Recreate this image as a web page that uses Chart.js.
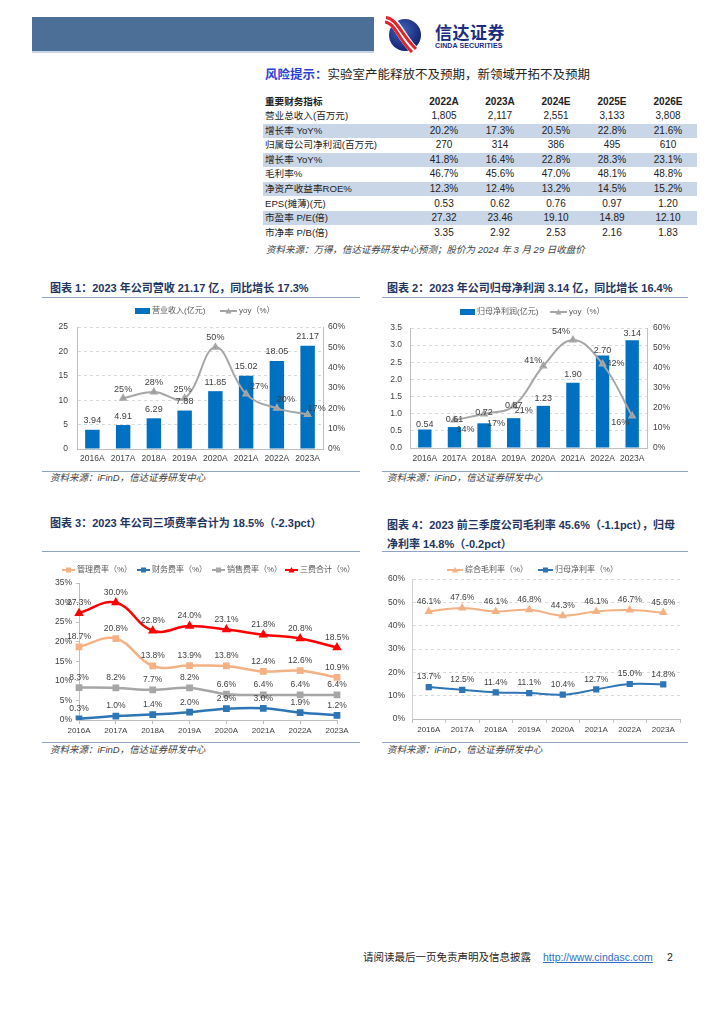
<!DOCTYPE html>
<html>
<head>
<meta charset="utf-8">
<script src="https://cdn.jsdelivr.net/npm/chart.js@4.4.1/dist/chart.umd.min.js"></script>
<style>
  body { margin: 0; background: #fff; }
  #page { position: relative; width: 724px; height: 1024px; overflow: hidden;
          font-family: "Liberation Sans", "Noto Sans CJK SC", sans-serif; color: #222; }
  .a { position: absolute; white-space: nowrap; }
  .title { font-size: 11px; font-weight: bold; color: #1f3561; line-height: 14px; }
  .rule { position: absolute; height: 0; border-top: 1.5px solid #8fa2c4; }
  .src { font-size: 9.5px; font-style: italic; color: #404040; line-height: 12px; }
  .lg { font-size: 8px; color: #595959; line-height: 10px; }
  .cell { position: absolute; width: 56px; text-align: center; font-size: 10px; line-height: 14px; }
  .box { position: absolute; }
</style>
</head>
<body>
<div id="page">
  <!-- header -->
  <div class="box" style="left:32px;top:17px;width:342px;height:34px;background:#4b6f97;"></div>
  <div class="box" style="left:32px;top:51px;width:342px;height:2px;background:#c8d5e4;"></div>
  <svg class="box" style="left:385px;top:16px" width="36" height="37" viewBox="0 0 36 37">
    <defs>
      <radialGradient id="lg1" cx="40%" cy="35%" r="70%">
        <stop offset="0" stop-color="#4262b8"/>
        <stop offset="1" stop-color="#0f1f6e"/>
      </radialGradient>
    </defs>
    <circle cx="20" cy="19" r="16" fill="url(#lg1)"/>
    <path d="M1 3 C 12 4, 16 22, 30 35" stroke="#fff" stroke-width="9" fill="none"/>
    <path d="M1 1.5 C 12 2.5, 17 20, 31 33" stroke="#e3232c" stroke-width="3" fill="none"/>
    <path d="M0 6 C 10 7, 14 24, 27 36" stroke="#e3232c" stroke-width="3" fill="none"/>
  </svg>
  <div class="a" style="left:435px;top:22px;font-size:17px;font-weight:bold;color:#1b2d80;letter-spacing:0.5px;line-height:20px;font-family:'Noto Sans CJK SC';">信达证券</div>
  <div class="a" style="left:435px;top:42px;font-size:7px;font-weight:bold;color:#1b2d80;line-height:8px;letter-spacing:0.1px;">CINDA SECURITIES</div>

  <!-- risk line -->
  <div class="a" style="left:265px;top:67px;font-size:12.5px;line-height:16px;">
    <span style="color:#2b3fd6;font-weight:bold;">风险提示&#xFF1A;</span><span>实验室产能释放不及预期&#xFF0C;新领域开拓不及预期</span>
  </div>

  <div id="table"></div>
  <div class="a src" style="left:266px;top:244px;">资料来源&#xFF1A;万得&#xFF0C;信达证券研发中心预测&#xFF1B;股价为 2024 年 3 月 29 日收盘价</div>

  <!-- chart titles and rules -->
  <div class="a title" style="left:50px;top:281px;">图表 1&#xFF1A;2023 年公司营收 21.17 亿&#xFF0C;同比增长 17.3%</div>
  <div class="rule" style="left:42px;top:297px;width:318px;"></div>
  <div class="a title" style="left:387px;top:281px;">图表 2&#xFF1A;2023 年公司归母净利润 3.14 亿&#xFF0C;同比增长 16.4%</div>
  <div class="rule" style="left:382px;top:297px;width:306px;"></div>

  <div id="w1" class="box" style="left:42px;top:300px;width:318px;height:170px;"><canvas id="c1"></canvas></div>
  <div id="w2" class="box" style="left:382px;top:300px;width:306px;height:170px;"><canvas id="c2"></canvas></div>

  <div class="rule" style="left:42px;top:471px;width:318px;"></div>
  <div class="rule" style="left:382px;top:471px;width:306px;"></div>
  <div class="a src" style="left:50px;top:472px;">资料来源&#xFF1A;iFinD&#xFF0C;信达证券研发中心</div>
  <div class="a src" style="left:387px;top:472px;">资料来源&#xFF1A;iFinD&#xFF0C;信达证券研发中心</div>

  <div class="a title" style="left:50px;top:516px;">图表 3&#xFF1A;2023 年公司三项费率合计为 18.5%&#xFF08;-2.3pct&#xFF09;</div>
  <div class="a title" style="left:387px;top:516px;line-height:19px;">图表 4&#xFF1A;2023 前三季度公司毛利率 45.6%&#xFF08;-1.1pct&#xFF09;&#xFF0C;归母<br>净利率 14.8%&#xFF08;-0.2pct&#xFF09;</div>
  <div class="rule" style="left:42px;top:551px;width:318px;"></div>
  <div class="rule" style="left:382px;top:551px;width:306px;"></div>

  <div id="w3" class="box" style="left:42px;top:565px;width:318px;height:175px;"><canvas id="c3"></canvas></div>
  <div id="w4" class="box" style="left:382px;top:565px;width:306px;height:175px;"><canvas id="c4"></canvas></div>

  <div class="rule" style="left:42px;top:742px;width:318px;"></div>
  <div class="rule" style="left:382px;top:742px;width:306px;"></div>
  <div class="a src" style="left:50px;top:744px;">资料来源&#xFF1A;iFinD&#xFF0C;信达证券研发中心</div>
  <div class="a src" style="left:387px;top:744px;">资料来源&#xFF1A;iFinD&#xFF0C;信达证券研发中心</div>

  <div id="legends"></div>

  <!-- footer -->
  <div class="a" style="left:363px;top:950px;font-size:10.5px;line-height:14px;color:#222;">请阅读最后一页免责声明及信息披露</div>
  <div class="a" style="left:543px;top:950px;font-size:10.5px;line-height:14px;color:#2e6fc0;text-decoration:underline;">http://www.cindasc.com</div>
  <div class="a" style="left:667px;top:950px;font-size:10.5px;line-height:14px;color:#222;">2</div>
</div>

<script>
// ---- data ----
var years = ['2016A', '2017A', '2018A', '2019A', '2020A', '2021A', '2022A', '2023A'];

var revenue = [3.94, 4.91, 6.29, 7.88, 11.85, 15.02, 18.05, 21.17];
var revenueYoy = [null, 25, 28, 25, 50, 27, 20, 17];

var netProfit = [0.54, 0.61, 0.72, 0.87, 1.23, 1.90, 2.70, 3.14];
var netProfitYoy = [null, 14, 17, 21, 41, 54, 42, 16];

var mgmtRate = [18.7, 20.8, 13.8, 13.9, 13.8, 12.4, 12.6, 10.9];
var finRate = [0.3, 1.0, 1.4, 2.0, 2.9, 3.0, 1.9, 1.2];
var salesRate = [8.3, 8.2, 7.7, 8.2, 6.6, 6.4, 6.4, 6.4];
var totalRate = [27.3, 30.0, 22.8, 24.0, 23.1, 21.8, 20.8, 18.5];

var grossMargin = [46.1, 47.6, 46.1, 46.8, 44.3, 46.1, 46.7, 45.6];
var netMargin = [13.7, 12.5, 11.4, 11.1, 10.4, 12.7, 15.0, 14.8];

var tableYears = ['2022A', '2023A', '2024E', '2025E', '2026E'];
var tableLabels = ['营业总收入(百万元)', '增长率 YoY%', '归属母公司净利润(百万元)', '增长率 YoY%', '毛利率%',
                   '净资产收益率ROE%', 'EPS(摊薄)(元)', '市盈率 P/E(倍)', '市净率 P/B(倍)'];
var tableRevenue = ['1,805', '2,117', '2,551', '3,133', '3,808'];
var tableRevenueYoy = ['20.2%', '17.3%', '20.5%', '22.8%', '21.6%'];
var tableProfit = ['270', '314', '386', '495', '610'];
var tableProfitYoy = ['41.8%', '16.4%', '22.8%', '28.3%', '23.1%'];
var tableGross = ['46.7%', '45.6%', '47.0%', '48.1%', '48.8%'];
var tableRoe = ['12.3%', '12.4%', '13.2%', '14.5%', '15.2%'];
var tableEps = ['0.53', '0.62', '0.76', '0.97', '1.20'];
var tablePe = ['27.32', '23.46', '19.10', '14.89', '12.10'];
var tablePb = ['3.35', '2.92', '2.53', '2.16', '1.83'];

// ---- table ----
var tableRows = [tableRevenue, tableRevenueYoy, tableProfit, tableProfitYoy, tableGross, tableRoe, tableEps, tablePe, tablePb];
var colX = [444, 500, 556, 612, 668];
var tbl = document.getElementById('table');
function rowY(i) { return 101.7 + i * 14.55; }
function addEl(parent, cls, css, text) {
  var d = document.createElement('div');
  d.className = cls;
  d.style.cssText = css;
  if (text != null) d.textContent = text;
  parent.appendChild(d);
  return d;
}
for (var r = 0; r <= tableRows.length; r++) {
  var cy = rowY(r);
  if (r > 0 && r % 2 == 0) {
    addEl(tbl, 'box', 'left:263px;width:434px;top:' + (cy - 7.3) + 'px;height:14.6px;background:#c9d6e8;');
  }
  var bold = r == 0 ? 'font-weight:bold;' : '';
  var lab = r == 0 ? '重要财务指标' : tableLabels[r - 1];
  addEl(tbl, 'a', 'left:265px;top:' + (cy - 7) + 'px;font-size:9.6px;line-height:14px;' + bold, lab);
  var vals = r == 0 ? tableYears : tableRows[r - 1];
  for (var c = 0; c < vals.length; c++) {
    addEl(tbl, 'cell', 'left:' + (colX[c] - 28) + 'px;top:' + (cy - 7) + 'px;' + bold, vals[c]);
  }
}

// ---- legends (html) ----
var lgs = document.getElementById('legends');
function legendItem(x, y, kind, color, w, text) {
  var svg = '<svg class="box" style="left:' + x + 'px;top:' + (y - 5) + 'px" width="' + w + '" height="10">';
  if (kind == 'bar') {
    svg += '<rect x="0" y="2" width="' + w + '" height="6" fill="' + color + '"/>';
  } else {
    svg += '<line x1="0" y1="5" x2="' + w + '" y2="5" stroke="' + color + '" stroke-width="2"/>';
    var m = w / 2;
    if (kind == 'tri') svg += '<path d="M' + (m - 3) + ' 7.5 L' + (m + 3) + ' 7.5 L' + m + ' 2 Z" fill="' + color + '"/>';
    else svg += '<rect x="' + (m - 2.5) + '" y="2.5" width="5" height="5" fill="' + color + '"/>';
  }
  svg += '</svg>';
  lgs.insertAdjacentHTML('beforeend', svg);
  addEl(lgs, 'a lg', 'left:' + (x + w + 2) + 'px;top:' + (y - 5) + 'px;', text);
}
var pctUnit = '\uFF08%\uFF09';
legendItem(135, 311, 'bar', '#0070c0', 15, '营业收入(亿元)');
legendItem(220, 311, 'tri', '#a6a6a6', 17, 'yoy' + pctUnit);
legendItem(460, 312, 'bar', '#0070c0', 15, '归母净利润(亿元)');
legendItem(550, 312, 'tri', '#a6a6a6', 17, 'yoy' + pctUnit);
legendItem(62, 570, 'sq', '#f4b183', 13, '管理费率' + pctUnit);
legendItem(137, 570, 'sq', '#2e75b6', 13, '财务费率' + pctUnit);
legendItem(212, 570, 'sq', '#a6a6a6', 13, '销售费率' + pctUnit);
legendItem(285, 570, 'tri', '#ff0000', 13, '三费合计' + pctUnit);
legendItem(447, 570, 'tri', '#f4b183', 16, '综合毛利率' + pctUnit);
legendItem(538, 570, 'sq', '#2e75b6', 15, '归母净利率' + pctUnit);

// ---- value labels plugin ----
var valueLabels = {
  id: 'valueLabels',
  afterDatasetsDraw: function(chart) {
    var ctx = chart.ctx;
    chart.data.datasets.forEach(function(ds, i) {
      var st = ds.labelStyle;
      if (!st) return;
      var meta = chart.getDatasetMeta(i);
      meta.data.forEach(function(el, j) {
        var v = ds.data[j];
        if (v == null) return;
        var off = st.offsets ? st.offsets[j] : [0, st.dy];
        ctx.save();
        ctx.font = st.size + 'px "Liberation Sans", sans-serif';
        ctx.fillStyle = '#404040';
        ctx.textAlign = 'center';
        ctx.textBaseline = 'middle';
        ctx.fillText(st.format(v), el.x + off[0], el.y + off[1]);
        ctx.restore();
      });
    });
  }
};

Chart.defaults.font.family = '"Liberation Sans", "Noto Sans CJK SC", sans-serif';
Chart.defaults.color = '#404040';
Chart.defaults.animation = false;

var tickFont = { size: 8.5 };
var pct = function(v) { return v + '%'; };
var pct1 = function(v) { return v.toFixed(1) + '%'; };

// chart 1
new Chart(document.getElementById('c1'), {
  type: 'bar',
  data: {
    labels: years,
    datasets: [{
      type: 'line',
      label: 'yoy(%)',
      data: revenueYoy,
      yAxisID: 'y1',
      borderColor: '#a6a6a6',
      backgroundColor: '#8c8c8c',
      borderWidth: 2,
      tension: 0.4,
      pointStyle: 'triangle',
      pointRadius: 3,
      order: 0,
      labelStyle: { size: 9, format: pct, offsets: [null, [0, -9], [0, -10], [-2, -9], [0, -10], [13, -8], [9, -9], [9, -6]] }
    }, {
      label: '营业收入(亿元)',
      data: revenue,
      backgroundColor: '#0070c0',
      categoryPercentage: 0.94,
      barPercentage: 0.5,
      order: 1,
      labelStyle: { size: 9, dy: -9, format: function(v) { return v.toFixed(2); } }
    }]
  },
  options: {
    responsive: true,
    maintainAspectRatio: false,
    layout: { padding: { top: 27, left: 0, right: 0, bottom: 0 } },
    plugins: { legend: { display: false }, tooltip: { enabled: false } },
    scales: {
      x: {
        grid: { display: false, drawTicks: false },
        border: { color: '#bfbfbf' },
        ticks: { font: tickFont, padding: 5, maxRotation: 0 },
        afterFit: function(s) { s.height = 21; }
      },
      y: {
        position: 'left', min: 0, max: 25,
        ticks: { stepSize: 5, font: tickFont, padding: 9 },
        grid: { color: '#d9d9d9', drawTicks: false },
        border: { color: '#bfbfbf', dash: [3, 3] },
        afterFit: function(s) { s.width = 35; }
      },
      y1: {
        position: 'right', min: 0, max: 60,
        ticks: { stepSize: 10, font: tickFont, padding: 5, callback: pct },
        grid: { display: false, drawTicks: false },
        border: { color: '#bfbfbf' },
        afterFit: function(s) { s.width = 37; }
      }
    }
  },
  plugins: [valueLabels]
});

// chart 2
new Chart(document.getElementById('c2'), {
  type: 'bar',
  data: {
    labels: years,
    datasets: [{
      type: 'line',
      label: 'yoy(%)',
      data: netProfitYoy,
      yAxisID: 'y1',
      borderColor: '#a6a6a6',
      backgroundColor: '#8c8c8c',
      borderWidth: 2,
      tension: 0.4,
      pointStyle: 'triangle',
      pointRadius: 3,
      order: 0,
      labelStyle: { size: 9, format: pct, offsets: [null, [11, 10], [12, 10], [10, 5], [-10, -5], [-12, -8], [13, 0], [-12, 7]] }
    }, {
      label: '归母净利润(亿元)',
      data: netProfit,
      backgroundColor: '#0070c0',
      categoryPercentage: 0.94,
      barPercentage: 0.48,
      order: 1,
      labelStyle: { size: 9, format: function(v) { return v.toFixed(2); },
                    offsets: [[0, -5], [0, -8], [0, -11], [0, -13], [0, -7], [0, -8], [0, -5], [0, -7]] }
    }]
  },
  options: {
    responsive: true,
    maintainAspectRatio: false,
    layout: { padding: { top: 28, left: 0, right: 0, bottom: 0 } },
    plugins: { legend: { display: false }, tooltip: { enabled: false } },
    scales: {
      x: {
        grid: { display: false, drawTicks: false },
        border: { color: '#bfbfbf' },
        ticks: { font: tickFont, padding: 5.5, maxRotation: 0 },
        afterFit: function(s) { s.height = 22; }
      },
      y: {
        position: 'left', min: 0, max: 3.5,
        ticks: { stepSize: 0.5, font: tickFont, padding: 8, callback: function(v) { return v.toFixed(1); } },
        grid: { color: '#d9d9d9', drawTicks: false },
        border: { color: '#bfbfbf', dash: [3, 3] },
        afterFit: function(s) { s.width = 28; }
      },
      y1: {
        position: 'right', min: 0, max: 60,
        ticks: { stepSize: 10, font: tickFont, padding: 6, callback: pct },
        grid: { display: false, drawTicks: false },
        border: { color: '#bfbfbf' },
        afterFit: function(s) { s.width = 41; }
      }
    }
  },
  plugins: [valueLabels]
});

// chart 3
function rateSet(label, data, color, style) {
  return {
    label: label,
    data: data,
    borderColor: color,
    backgroundColor: color,
    borderWidth: 2.5,
    tension: 0.4,
    pointStyle: style,
    pointRadius: 3,
    labelStyle: { size: 8.5, dy: -10, format: pct1 }
  };
}
new Chart(document.getElementById('c3'), {
  type: 'line',
  data: {
    labels: years,
    datasets: [
      rateSet('三费合计(%)', totalRate, '#ff0000', 'triangle'),
      rateSet('管理费率(%)', mgmtRate, '#f4b183', 'rect'),
      rateSet('销售费率(%)', salesRate, '#a6a6a6', 'rect'),
      rateSet('财务费率(%)', finRate, '#2e75b6', 'rect')
    ]
  },
  options: {
    responsive: true,
    maintainAspectRatio: false,
    layout: { padding: { top: 18, left: 0, right: 23, bottom: 0 } },
    plugins: { legend: { display: false }, tooltip: { enabled: false } },
    scales: {
      x: {
        offset: false,
        grid: { display: true, drawOnChartArea: false, drawTicks: true, tickLength: 4, color: '#bfbfbf' },
        border: { color: '#bfbfbf' },
        ticks: { font: { size: 8 }, padding: 2, maxRotation: 0 },
        afterFit: function(s) { s.height = 20; }
      },
      y: {
        min: 0, max: 35,
        ticks: { stepSize: 5, font: tickFont, padding: 4, callback: pct },
        grid: { display: true, drawOnChartArea: false, drawTicks: true, tickLength: 3, color: '#bfbfbf' },
        border: { color: '#bfbfbf' },
        afterFit: function(s) { s.width = 37; }
      }
    }
  },
  plugins: [valueLabels]
});

// chart 4
new Chart(document.getElementById('c4'), {
  type: 'line',
  data: {
    labels: years,
    datasets: [{
      label: '综合毛利率(%)',
      data: grossMargin,
      borderColor: '#f4b183',
      backgroundColor: '#f4b183',
      borderWidth: 2,
      tension: 0.4,
      pointStyle: 'triangle',
      pointRadius: 3,
      labelStyle: { size: 8.5, dy: -10, format: pct1 }
    }, {
      label: '归母净利率(%)',
      data: netMargin,
      borderColor: '#2e75b6',
      backgroundColor: '#2e75b6',
      borderWidth: 2,
      tension: 0.4,
      pointStyle: 'rect',
      pointRadius: 3,
      labelStyle: { size: 8.5, dy: -10, format: pct1 }
    }]
  },
  options: {
    responsive: true,
    maintainAspectRatio: false,
    layout: { padding: { top: 14, left: 0, right: 8, bottom: 0 } },
    plugins: { legend: { display: false }, tooltip: { enabled: false } },
    scales: {
      x: {
        offset: true,
        grid: { display: true, offset: true, drawOnChartArea: false, drawTicks: true, tickLength: 4, color: '#bfbfbf' },
        border: { color: '#bfbfbf' },
        ticks: { font: { size: 8 }, padding: 2, maxRotation: 0 },
        afterFit: function(s) { s.height = 21; }
      },
      y: {
        min: 0, max: 60,
        ticks: { stepSize: 10, font: tickFont, padding: 7, callback: pct },
        grid: { color: '#d9d9d9', drawTicks: false },
        border: { color: '#d0d0d0', dash: [3, 3] },
        afterFit: function(s) { s.width = 30; }
      }
    }
  },
  plugins: [valueLabels]
});
</script>
</body>
</html>
